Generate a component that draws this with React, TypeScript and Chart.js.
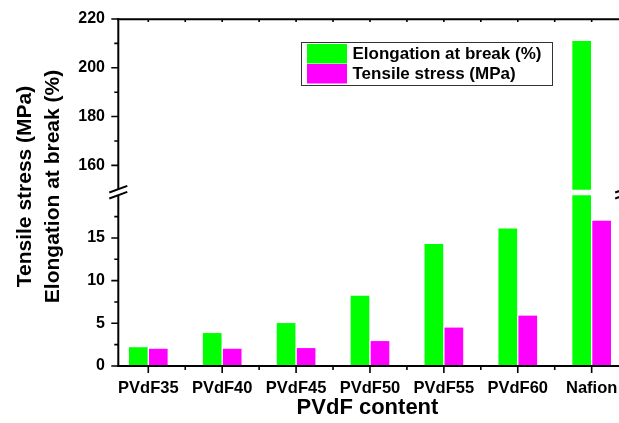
import React, { useEffect, useRef } from "react";
import { Chart, registerables, LinearScale } from "chart.js";

Chart.register(...registerables);

// ---- data ----
const categories = ["PVdF35", "PVdF40", "PVdF45", "PVdF50", "PVdF55", "PVdF60", "Nafion"];
const elongation = [2.2, 3.86, 5.03, 8.22, 14.3, 16.1, 211];
const tensile = [2.02, 2.02, 2.1, 2.92, 4.5, 5.9, 17.0];
const seriesLabels = ["Elongation at break (%)", "Tensile stress (MPa)"];
const seriesColors = ["#00FF00", "#FF00FF"];
const yTickValues = [0, 5, 10, 15, 160, 180, 200, 220];
const yMinorValues = [2.5, 7.5, 12.5, 17.5, 170, 190, 210];
const lowerRange = [0, 20];
const upperRange = [150, 220];
const xRange = [-0.41, 6.37];
const rightAxisX = 6.44;
const xTitle = "PVdF content";
const yTitleLines = ["Tensile stress (MPa)", "Elongation at break (%)"];

const GAP_PX = 5.5;

class BrokenLinearScale extends LinearScale {
  static id = "brokenLinear";
  static defaults = (LinearScale as any).defaults;
  getPixelForValue(value: number) {
    const top = (this as any).top;
    const bottom = (this as any).bottom;
    const seg = (bottom - top - GAP_PX) / 2;
    if (value <= lowerRange[1]) {
      return bottom - ((value - lowerRange[0]) / (lowerRange[1] - lowerRange[0])) * seg;
    }
    if (value >= upperRange[0]) {
      return top + seg - ((value - upperRange[0]) / (upperRange[1] - upperRange[0])) * seg;
    }
    const t = (value - lowerRange[1]) / (upperRange[0] - lowerRange[1]);
    return bottom - seg - t * GAP_PX;
  }
  getValueForPixel(pixel: number) {
    const top = (this as any).top;
    const bottom = (this as any).bottom;
    const seg = (bottom - top - GAP_PX) / 2;
    if (pixel >= bottom - seg) {
      return lowerRange[0] + ((bottom - pixel) / seg) * (lowerRange[1] - lowerRange[0]);
    }
    if (pixel <= top + seg) {
      return upperRange[0] + ((top + seg - pixel) / seg) * (upperRange[1] - upperRange[0]);
    }
    const t = (bottom - seg - pixel) / GAP_PX;
    return lowerRange[1] + t * (upperRange[0] - lowerRange[1]);
  }
}
Chart.register(BrokenLinearScale as any);

const FONT = "'Liberation Sans', Arial, Helvetica, sans-serif";

const decorPlugin = {
  id: "decor",
  afterDraw(chart: any) {
    const ctx = chart.ctx as CanvasRenderingContext2D;
    const { left, right, top, bottom } = chart.chartArea;
    const xs = chart.scales.x;
    const ys = chart.scales.y;
    const gapTop = ys.getPixelForValue(upperRange[0]);
    const gapBot = ys.getPixelForValue(lowerRange[1]);
    const gapMid = (gapTop + gapBot) / 2;
    const rightX = xs.getPixelForValue(rightAxisX);
    ctx.save();

    // white gap through bars
    ctx.fillStyle = "#fff";
    ctx.fillRect(left + 2, gapTop, right - left + 10, gapBot - gapTop);

    ctx.strokeStyle = "#000";
    ctx.lineWidth = 2;
    ctx.lineCap = "butt";
    const axX = left + 0.3;

    // left axis (broken)
    ctx.beginPath();
    ctx.moveTo(axX, top - 1);
    ctx.lineTo(axX, gapMid - 3);
    ctx.moveTo(axX, gapMid + 3);
    ctx.lineTo(axX, bottom + 1);
    ctx.stroke();

    // top axis
    ctx.beginPath();
    ctx.moveTo(left - 1, top + 0.2);
    ctx.lineTo(rightX, top + 0.2);
    ctx.stroke();

    // bottom axis
    ctx.beginPath();
    ctx.moveTo(left - 1, bottom);
    ctx.lineTo(rightX, bottom);
    ctx.stroke();

    // y ticks
    ctx.lineWidth = 1.6;
    ctx.beginPath();
    yTickValues.forEach((v) => {
      const py = ys.getPixelForValue(v);
      ctx.moveTo(axX - 7, py);
      ctx.lineTo(axX, py);
    });
    yMinorValues.forEach((v) => {
      const py = ys.getPixelForValue(v);
      ctx.moveTo(axX - 4, py);
      ctx.lineTo(axX, py);
    });
    ctx.stroke();

    // x ticks (major at categories, minor at boundaries)
    ctx.beginPath();
    categories.forEach((_, i) => {
      const px = xs.getPixelForValue(i);
      ctx.moveTo(px, bottom);
      ctx.lineTo(px, bottom + 7);
      ctx.moveTo(px, top);
      ctx.lineTo(px, top + 3);
      const mx = xs.getPixelForValue(i + 0.5);
      if (mx < rightX) {
        ctx.moveTo(mx, bottom);
        ctx.lineTo(mx, bottom + 4);
        ctx.moveTo(mx, top);
        ctx.lineTo(mx, top + 3);
      }
    });
    ctx.stroke();

    // break marks
    ctx.lineWidth = 2;
    const drawBreak = (cx: number) => {
      ctx.beginPath();
      ctx.moveTo(cx - 9, gapMid);
      ctx.lineTo(cx + 9, gapMid - 6.6);
      ctx.moveTo(cx - 9, gapMid + 6);
      ctx.lineTo(cx + 9, gapMid - 0.6);
      ctx.stroke();
    };
    drawBreak(axX);
    drawBreak(rightX);

    // legend
    ctx.lineWidth = 1;
    ctx.strokeStyle = "#333";
    ctx.strokeRect(301.5, 42.5, 251, 43);
    chart.data.datasets.forEach((ds: any, i: number) => {
      const y0 = 44 + i * 20;
      ctx.fillStyle = ds.backgroundColor;
      ctx.fillRect(307, y0, 40, 19.5);
      ctx.fillStyle = "#000";
      ctx.font = `bold 17px ${FONT}`;
      ctx.textAlign = "left";
      ctx.textBaseline = "middle";
      ctx.fillText(ds.label, 352.5, y0 + 10.5);
    });

    // x title
    ctx.fillStyle = "#000";
    ctx.font = `bold 22px ${FONT}`;
    ctx.textAlign = "center";
    ctx.textBaseline = "alphabetic";
    ctx.fillText(xTitle, 367.5, 413.5);

    // y title (two lines)
    ctx.font = `bold 21px ${FONT}`;
    const yc = 186.5;
    const baselines = [31, 59];
    yTitleLines.forEach((t, i) => {
      ctx.save();
      ctx.translate(baselines[i], yc);
      ctx.rotate(-Math.PI / 2);
      ctx.textAlign = "center";
      ctx.textBaseline = "alphabetic";
      ctx.fillText(t, 0, 0);
      ctx.restore();
    });

    ctx.restore();
  },
};

export default function App() {
  const ref = useRef<HTMLCanvasElement | null>(null);
  useEffect(() => {
    document.body.style.margin = "0";
    const canvas = ref.current!;
    const chart = new Chart(canvas, {
      type: "bar",
      data: {
        datasets: [
          {
            label: seriesLabels[0],
            data: elongation.map((v, i) => ({ x: i, y: v })),
            backgroundColor: seriesColors[0],
            borderWidth: 0,
          },
          {
            label: seriesLabels[1],
            data: tensile.map((v, i) => ({ x: i, y: v })),
            backgroundColor: seriesColors[1],
            borderWidth: 0,
          },
        ],
      },
      options: {
        responsive: false,
        animation: false,
        devicePixelRatio: 1,
        layout: { padding: { top: 19, right: 0, left: 0, bottom: 0 } },
        datasets: { bar: { categoryPercentage: 0.541, barPercentage: 0.935 } } as any,
        plugins: { legend: { display: false }, tooltip: { enabled: false } },
        scales: {
          x: {
            type: "linear",
            min: xRange[0],
            max: xRange[1],
            offset: false,
            grid: { display: false, drawTicks: false, offset: false },
            border: { display: false },
            afterBuildTicks: (scale: any) => {
              scale.ticks = categories.map((_, i) => ({ value: i }));
            },
            afterFit: (scale: any) => {
              scale.height = 57;
              scale.paddingLeft = 0;
              scale.paddingRight = 0;
              scale.paddingTop = 0;
              scale.paddingBottom = 0;
            },
            ticks: {
              autoSkip: false,
              maxRotation: 0,
              padding: 13,
              color: "#000",
              font: { family: FONT, size: 16.5, weight: "bold" },
              callback: (v: any) => categories[v as number] ?? "",
            },
          },
          y: {
            type: "brokenLinear" as any,
            min: 0,
            max: 220,
            grid: { display: false, drawTicks: false },
            border: { display: false },
            afterBuildTicks: (scale: any) => {
              scale.ticks = yTickValues.map((v) => ({ value: v }));
            },
            afterFit: (scale: any) => {
              scale.width = 118;
              scale.paddingLeft = 0;
              scale.paddingRight = 0;
              scale.paddingTop = 0;
              scale.paddingBottom = 0;
            },
            ticks: {
              padding: 13,
              color: "#000",
              font: { family: FONT, size: 16, weight: "bold" },
              callback: (v: any) => String(v),
            },
          },
        },
      },
      plugins: [decorPlugin],
    } as any);
    return () => chart.destroy();
  }, []);
  return (
    <div style={{ width: 619, height: 423 }}>
      <canvas ref={ref} width={619} height={423} style={{ display: "block" }} />
    </div>
  );
}
